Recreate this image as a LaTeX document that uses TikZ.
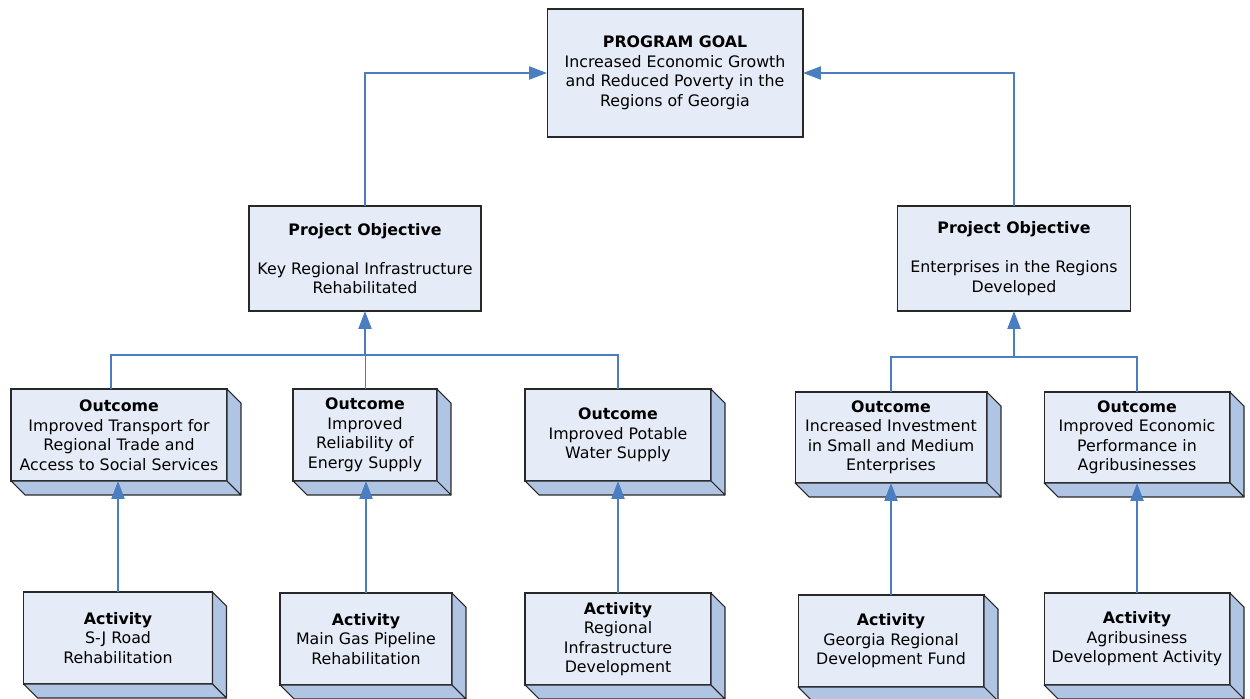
\documentclass[tikz,border=0pt]{standalone}
\usepackage{fontspec}
\setmainfont{DejaVu Sans}
\usepackage{tikz}
\usetikzlibrary{arrows.meta}

\definecolor{linkblue}{RGB}{74,126,193}
\definecolor{boxfill}{RGB}{230,236,247}
\definecolor{sidefill}{RGB}{176,196,228}
\definecolor{boxline}{RGB}{40,40,40}

\tikzset{
    box/.style={draw=boxline, fill=boxfill, line width=0.6pt, outer sep=0pt,
        inner sep=0pt, align=center, font=\fontsize{9}{11.1}\selectfont},
    side/.style={draw=boxline, fill=sidefill, line width=0.6pt, line join=round},
    link/.style={draw=linkblue, line width=1.3pt},
    thinlink/.style={draw=linkblue, line width=0.5pt},
    arrow/.style={link, -{Triangle[length=0.36cm, width=0.26cm]}}
}

\begin{document}
\begin{tikzpicture}[x=0.02cm, y=-0.02cm]
    \useasboundingbox (0,0) rectangle (1250,699);
    % goal and objectives
    \node[box, minimum width=5.12cm, minimum height=2.56cm] (goal) at (675,73)
        {\textbf{PROGRAM GOAL}\\Increased Economic Growth\\and Reduced Poverty in the\\Regions of Georgia};
    \node[box, minimum width=4.64cm, minimum height=2.10cm] (po1) at (365,258.5)
        {\textbf{Project Objective}\\[11.1pt]Key Regional Infrastructure\\Rehabilitated};
    \node[box, minimum width=4.66cm, minimum height=2.10cm] (po2) at (1014,258.5)
        {\textbf{Project Objective}\\[11.1pt]Enterprises in the Regions\\Developed};
    % outcomes
    \node[box, minimum width=4.32cm, minimum height=1.84cm] (o1) at (119,435)
        {\textbf{Outcome}\\Improved Transport for\\Regional Trade and\\Access to Social Services};
    \node[box, minimum width=2.88cm, minimum height=1.84cm] (o2) at (365,435)
        {\textbf{Outcome}\\Improved\\Reliability of\\Energy Supply};
    \node[box, minimum width=3.72cm, minimum height=1.84cm] (o3) at (618,435)
        {\textbf{Outcome}\\Improved Potable\\Water Supply};
    \node[box, minimum width=3.84cm, minimum height=1.82cm] (o4) at (891,437.5)
        {\textbf{Outcome}\\Increased Investment\\in Small and Medium\\Enterprises};
    \node[box, minimum width=3.72cm, minimum height=1.82cm] (o5) at (1137,437.5)
        {\textbf{Outcome}\\Improved Economic\\Performance in\\Agribusinesses};
    % activities
    \node[box, minimum width=3.78cm, minimum height=1.84cm] (a1) at (118,638)
        {\textbf{Activity}\\S-J Road\\Rehabilitation};
    \node[box, minimum width=3.44cm, minimum height=1.84cm] (a2) at (366,639)
        {\textbf{Activity}\\Main Gas Pipeline\\Rehabilitation};
    \node[box, minimum width=3.72cm, minimum height=1.84cm] (a3) at (618,639)
        {\textbf{Activity}\\Regional\\Infrastructure\\Development};
    \node[box, minimum width=3.72cm, minimum height=1.84cm] (a4) at (891,641)
        {\textbf{Activity}\\Georgia Regional\\Development Fund};
    \node[box, minimum width=3.72cm, minimum height=1.84cm] (a5) at (1137,639)
        {\textbf{Activity}\\Agribusiness\\Development Activity};
    % 3d sides
    \foreach \n in {o1,o2,o3,o4,o5,a1,a2,a3,a4,a5}{
        \filldraw[side] (\n.north east) -- ++(14,14) -- ([shift={(14,14)}]\n.south east) -- (\n.south east) -- cycle;
        \filldraw[side] (\n.south west) -- ++(14,14) -- ([shift={(14,14)}]\n.south east) -- (\n.south east) -- cycle;
    }
    % connectors
    \coordinate (lbus) at (365,355);
    \coordinate (rbus) at (1014,357);
    \draw[link] ([xshift=-0.16cm]o1.north) |- (o3.north |- lbus) -- (o3.north);
    \draw[thinlink] (o2.north) -- (o2.north |- lbus);
    \draw[arrow] (lbus) -- (po1.south);
    \draw[link] (o4.north) |- (o5.north |- rbus) -- (o5.north);
    \draw[arrow] (rbus) -- (po2.south);
    \draw[arrow] (po1.north) |- (goal.west);
    \draw[arrow] (po2.north) |- (goal.east);
    \foreach \n in {1,...,5}{
        \draw[arrow] (a\n.north) -- (a\n.north |- o\n.south);
    }
\end{tikzpicture}
\end{document}
